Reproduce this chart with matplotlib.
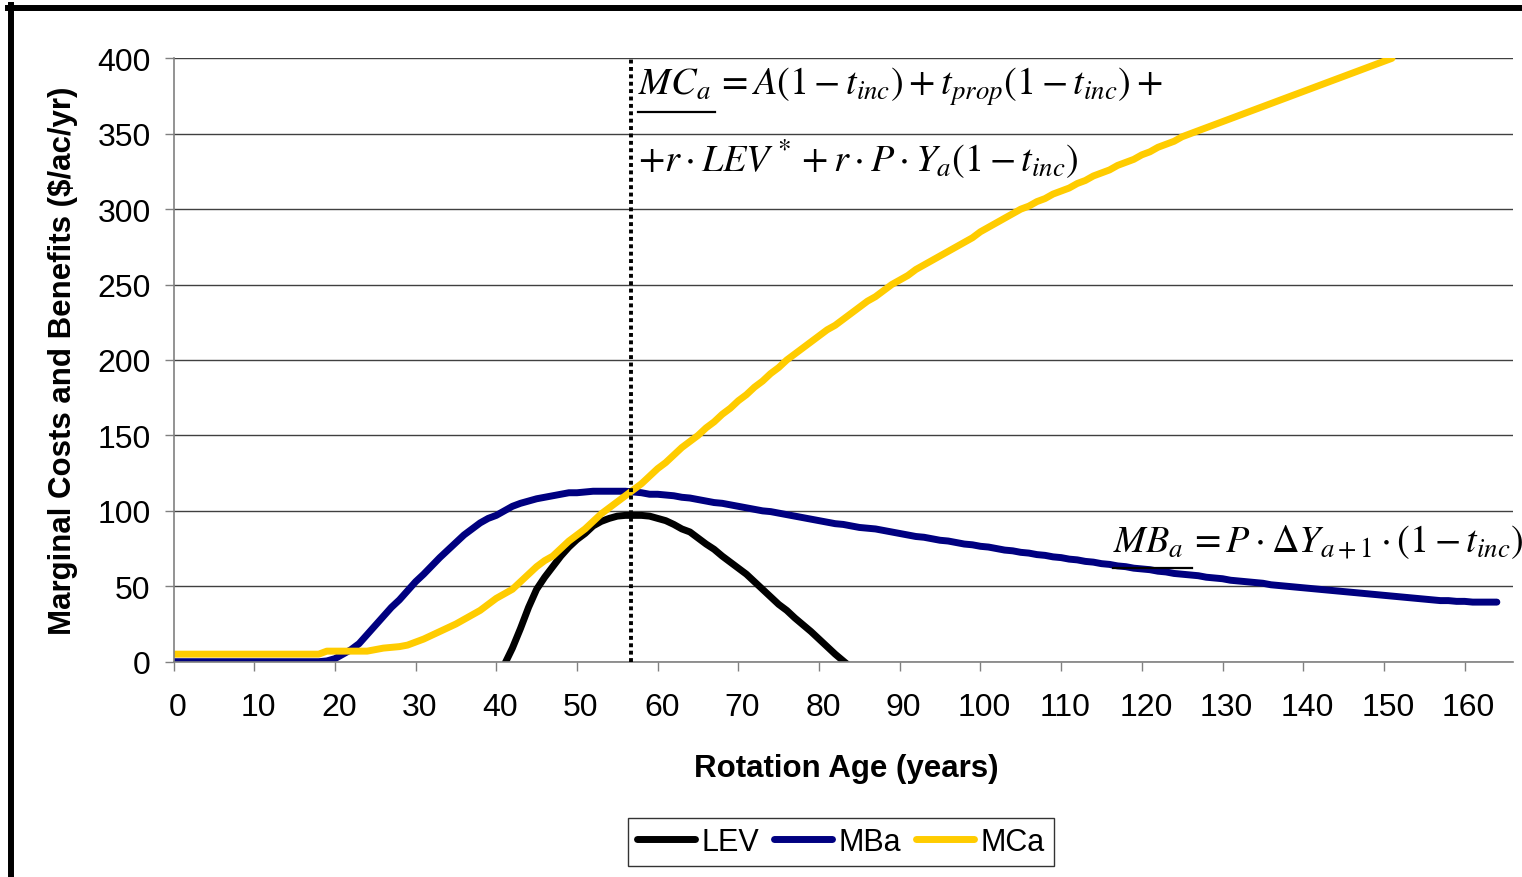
import numpy as np
import matplotlib as mpl
mpl.use('Agg')
from matplotlib import pyplot as plt
from matplotlib.lines import Line2D
from matplotlib.transforms import ScaledTranslation

# ---- data ----
ages_mca = np.arange(0, 152)
mca = [5] * 19 + [7] * 6 + [
    8, 9, 9.5, 10, 11, 13, 15, 17.5, 20, 22.5,                 # 25-34
    25, 28, 31, 34, 38, 42, 45, 48, 53, 58,                    # 35-44
    63, 67, 70, 75, 80, 84, 88, 93, 98, 102,                   # 45-54
    106, 110, 114, 118, 123, 128, 132, 137, 142, 146,          # 55-64
    150, 155, 159, 164, 168, 173, 177, 182, 186, 191,          # 65-74
    195, 200, 204, 208, 212, 216, 220, 223, 227, 231,          # 75-84
    235, 239, 242, 246, 250, 253, 256, 260, 263, 266,          # 85-94
    269, 272, 275, 278, 281, 285, 288, 291, 294, 297,          # 95-104
    300, 302, 305, 307, 310, 312, 314, 317, 319, 322,          # 105-114
    324, 326, 329, 331, 333, 336, 338, 341, 343, 345,          # 115-124
    348, 350, 352, 354, 356, 358, 360, 362, 364, 366,          # 125-134
    368, 370, 372, 374, 376, 378, 380, 382, 384, 386,          # 135-144
    388, 390, 392, 394, 396, 398, 400]                         # 145-151

ages_mba = np.arange(0, 165)
mba = [0] * 19 + [
    0.5, 2, 5, 8, 12, 18, 24, 30, 36, 41,                      # 19-28
    47, 53, 58, 63.5, 69, 74, 79, 84, 88, 92,                  # 29-38
    95, 97, 100, 103, 105, 106.5, 108, 109, 110, 111,          # 39-48
    112, 112, 112.5, 113, 113, 113, 113, 113, 112.5, 112,      # 49-58
    111, 111, 110.5, 110, 109, 108.5, 107.5, 106.5, 105.5, 105,  # 59-68
    104, 103, 102, 101, 100, 99.5, 98.5, 97.5, 96.5, 95.5,     # 69-78
    94.5, 93.5, 92.5, 91.5, 91, 90, 89, 88.5, 88, 87,          # 79-88
    86, 85, 84, 83, 82.5, 81.5, 80.5, 80, 79, 78,              # 89-98
    77.5, 76.5, 76, 75, 74, 73.5, 72.5, 72, 71, 70.5,          # 99-108
    69.5, 69, 68, 67.5, 66.5, 66, 65, 64.5, 63.5, 63,          # 109-118
    62, 61.5, 61, 60, 59.5, 58.5, 58, 57.5, 57, 56,            # 119-128
    55.5, 55, 54, 53.5, 53, 52.5, 52, 51, 50.5, 50,            # 129-138
    49.5, 49, 48.5, 48, 47.5, 47, 46.5, 46, 45.5, 45,          # 139-148
    44.5, 44, 43.5, 43, 42.5, 42, 41.5, 41, 40.5, 40.5,        # 149-158
    40, 40, 39.5, 39.5, 39.5, 39.5]                            # 159-164

ages_lev = np.arange(41, 85)
lev = [
    -2, 9, 22, 36, 48, 56, 63, 70, 76, 81,                     # 41-50
    85, 90, 93, 95, 96.5, 97, 97, 97, 96.5, 95,                # 51-60
    93.5, 91, 88, 86, 82, 78, 74.5, 70, 66, 62,                # 61-70
    58, 53, 48, 43, 38, 34, 29, 24.5, 20, 15,                  # 71-80
    10, 5, 0.5, -4]                                            # 81-84

optimal_age = 56.7

x_ticks = np.arange(0, 161, 10)
y_ticks = np.arange(0, 401, 50)

plt.rcParams['font.family'] = ['Liberation Sans', 'DejaVu Sans']
plt.rcParams['mathtext.fontset'] = 'stix'

W, H = 1522, 878
fig = plt.figure(figsize=(W / 100, H / 100), dpi=100)
ax = fig.add_axes([173.5 / W, 1 - 662.7 / H, (1513 - 173.5) / W, (662.7 - 59.3) / H])

ax.plot(ages_lev, lev, color='black', lw=5, label='LEV', solid_capstyle='round')
ax.plot(ages_mba, mba, color='#000080', lw=5, label='MBa', solid_capstyle='round')
ax.plot(ages_mca, mca, color='#FFCC00', lw=5, label='MCa', solid_capstyle='round')
ax.plot([optimal_age, optimal_age], [0, 400], color='black', lw=2.8,
        linestyle=(0, (1, 0.9)), zorder=5)

ax.set_xlim(0, 166)
ax.set_ylim(0, 400)
ax.set_xticks(x_ticks)
ax.set_yticks(y_ticks)
ax.yaxis.grid(True, color='#404040', lw=1.0)
ax.set_axisbelow(True)
for s in ['top', 'right']:
    ax.spines[s].set_visible(False)
for s in ['left', 'bottom']:
    ax.spines[s].set_color('#808080')
    ax.spines[s].set_linewidth(1.2)
ax.tick_params(axis='both', direction='out', length=6.5, width=1.0, color='#808080',
               labelsize=23)
ax.tick_params(axis='x', pad=15)
ax.tick_params(axis='y', pad=10)
ax.set_xticklabels([str(v) for v in x_ticks])
shift = ScaledTranslation(4 / 100, 0, fig.dpi_scale_trans)
for lbl in ax.get_xticklabels():
    lbl.set_transform(lbl.get_transform() + shift)

ax.set_xlabel('Rotation Age (years)', fontsize=22.5, fontweight='bold')
ax.xaxis.set_label_coords(0.502, -0.152)
ax.set_ylabel('Marginal Costs and Benefits ($/ac/yr)', fontsize=22.5, fontweight='bold')
ax.yaxis.set_label_coords(-0.071, 0.5)

# equations
fig.text(638 / W, 1 - 95 / H,
         r'$MC_a\,=A(1-t_{inc})+t_{prop}(1-t_{inc})+$', fontsize=27.5, ha='left', va='baseline')
fig.text(638 / W, 1 - 172 / H,
         r'$+r\cdot LEV^*+r\cdot P\cdot Y_a(1-t_{inc})$', fontsize=27.5, ha='left', va='baseline')
fig.text(1113 / W, 1 - 552 / H,
         r'$MB_a\,=P\cdot \Delta Y_{a+1}\cdot(1-t_{inc})$', fontsize=27.5, ha='left', va='baseline')
fig.add_artist(Line2D([638 / W, 715 / W], [1 - 113 / H, 1 - 113 / H], color='black', lw=1.6))
fig.add_artist(Line2D([1113 / W, 1192 / W], [1 - 569 / H, 1 - 569 / H], color='black', lw=1.6))

# outer frame (right / bottom edges fall outside the image)
fig.add_artist(Line2D([11.3 / W, 11.3 / W], [0, 1 - 6 / H], color='black', lw=4.3))
fig.add_artist(Line2D([8.3 / W, 1], [1 - 9 / H, 1 - 9 / H], color='black', lw=4.3))

leg = fig.legend(loc='center', bbox_to_anchor=(841 / W, 1 - 843 / H), ncol=3, fontsize=22,
                 frameon=True, fancybox=False, edgecolor='black', handlelength=1.9,
                 handletextpad=0.2, columnspacing=0.5, borderpad=0.3, borderaxespad=0)
leg.get_frame().set_linewidth(1.0)

fig.savefig('out.png', dpi=100)
